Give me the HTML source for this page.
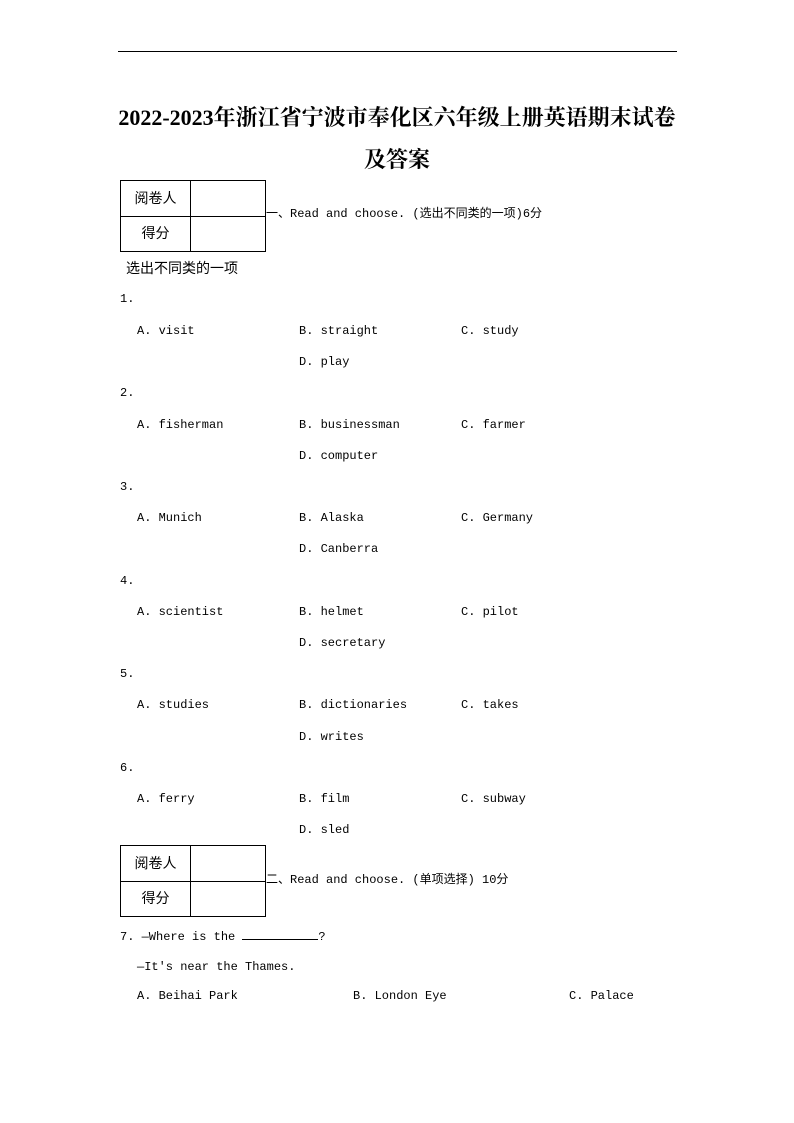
<!DOCTYPE html>
<html><head><meta charset="utf-8"><style>
body{margin:0;width:794px;height:1123px;background:#fff;position:relative;font-family:"Liberation Mono","Noto Serif CJK SC",monospace;font-size:12px;color:#000}
.t{position:absolute;white-space:nowrap;line-height:14px}
.h{position:absolute;left:0;width:794px;text-align:center;font-family:"Liberation Serif","Noto Serif CJK SC",serif;font-weight:bold;font-size:22px;line-height:24px}
.box{position:absolute;width:144px;height:70px;border:1px solid #000}
.box .v{position:absolute;left:69px;top:0;width:1px;height:70px;background:#000}
.box .m{position:absolute;left:0;top:35px;width:144px;height:1px;background:#000}
.box .a,.box .b{position:absolute;left:0;width:69px;text-align:center;font-family:"Liberation Sans","Noto Sans CJK SC",sans-serif;font-size:14px;line-height:35px}
.box .a{top:0}.box .b{top:35px}
.c{font-family:"Liberation Mono","Noto Sans CJK SC",monospace}
</style></head><body>
<div style="position:absolute;left:118px;top:51px;width:559px;height:1px;background:#000"></div>
<div class="h" style="top:106px">2022-2023年浙江省宁波市奉化区六年级上册英语期末试卷</div>
<div class="h" style="top:148px">及答案</div>

<div class="box" style="left:120px;top:180px"><div class="v"></div><div class="m"></div><div class="a">阅卷人</div><div class="b">得分</div></div>
<div class="t c" style="left:266px;top:207px">一、Read and choose. (选出不同类的一项)6分</div>
<div class="t c" style="left:126px;top:261px;font-family:'Liberation Sans','Noto Sans CJK SC',sans-serif;font-size:14px">选出不同类的一项</div>

<div class="t" style="left:120px;top:292px">1.</div>
<div class="t" style="left:137px;top:324px">A. visit</div><div class="t" style="left:299px;top:324px">B. straight</div><div class="t" style="left:461px;top:324px">C. study</div>
<div class="t" style="left:299px;top:355px">D. play</div>

<div class="t" style="left:120px;top:386px">2.</div>
<div class="t" style="left:137px;top:418px">A. fisherman</div><div class="t" style="left:299px;top:418px">B. businessman</div><div class="t" style="left:461px;top:418px">C. farmer</div>
<div class="t" style="left:299px;top:449px">D. computer</div>

<div class="t" style="left:120px;top:480px">3.</div>
<div class="t" style="left:137px;top:511px">A. Munich</div><div class="t" style="left:299px;top:511px">B. Alaska</div><div class="t" style="left:461px;top:511px">C. Germany</div>
<div class="t" style="left:299px;top:542px">D. Canberra</div>

<div class="t" style="left:120px;top:574px">4.</div>
<div class="t" style="left:137px;top:605px">A. scientist</div><div class="t" style="left:299px;top:605px">B. helmet</div><div class="t" style="left:461px;top:605px">C. pilot</div>
<div class="t" style="left:299px;top:636px">D. secretary</div>

<div class="t" style="left:120px;top:667px">5.</div>
<div class="t" style="left:137px;top:698px">A. studies</div><div class="t" style="left:299px;top:698px">B. dictionaries</div><div class="t" style="left:461px;top:698px">C. takes</div>
<div class="t" style="left:299px;top:730px">D. writes</div>

<div class="t" style="left:120px;top:761px">6.</div>
<div class="t" style="left:137px;top:792px">A. ferry</div><div class="t" style="left:299px;top:792px">B. film</div><div class="t" style="left:461px;top:792px">C. subway</div>
<div class="t" style="left:299px;top:823px">D. sled</div>

<div class="box" style="left:120px;top:845px"><div class="v"></div><div class="m"></div><div class="a">阅卷人</div><div class="b">得分</div></div>
<div class="t c" style="left:266px;top:873px">二、Read and choose. (单项选择) 10分</div>

<div class="t c" style="left:120px;top:927px">7. —Where is the <span style="display:inline-block;width:76px;border-bottom:1px solid #000;height:12px"></span>?</div>
<div class="t c" style="left:137px;top:960px">—It's near the Thames.</div>
<div class="t" style="left:137px;top:989px">A. Beihai Park</div><div class="t" style="left:353px;top:989px">B. London Eye</div><div class="t" style="left:569px;top:989px">C. Palace</div>
</body></html>
